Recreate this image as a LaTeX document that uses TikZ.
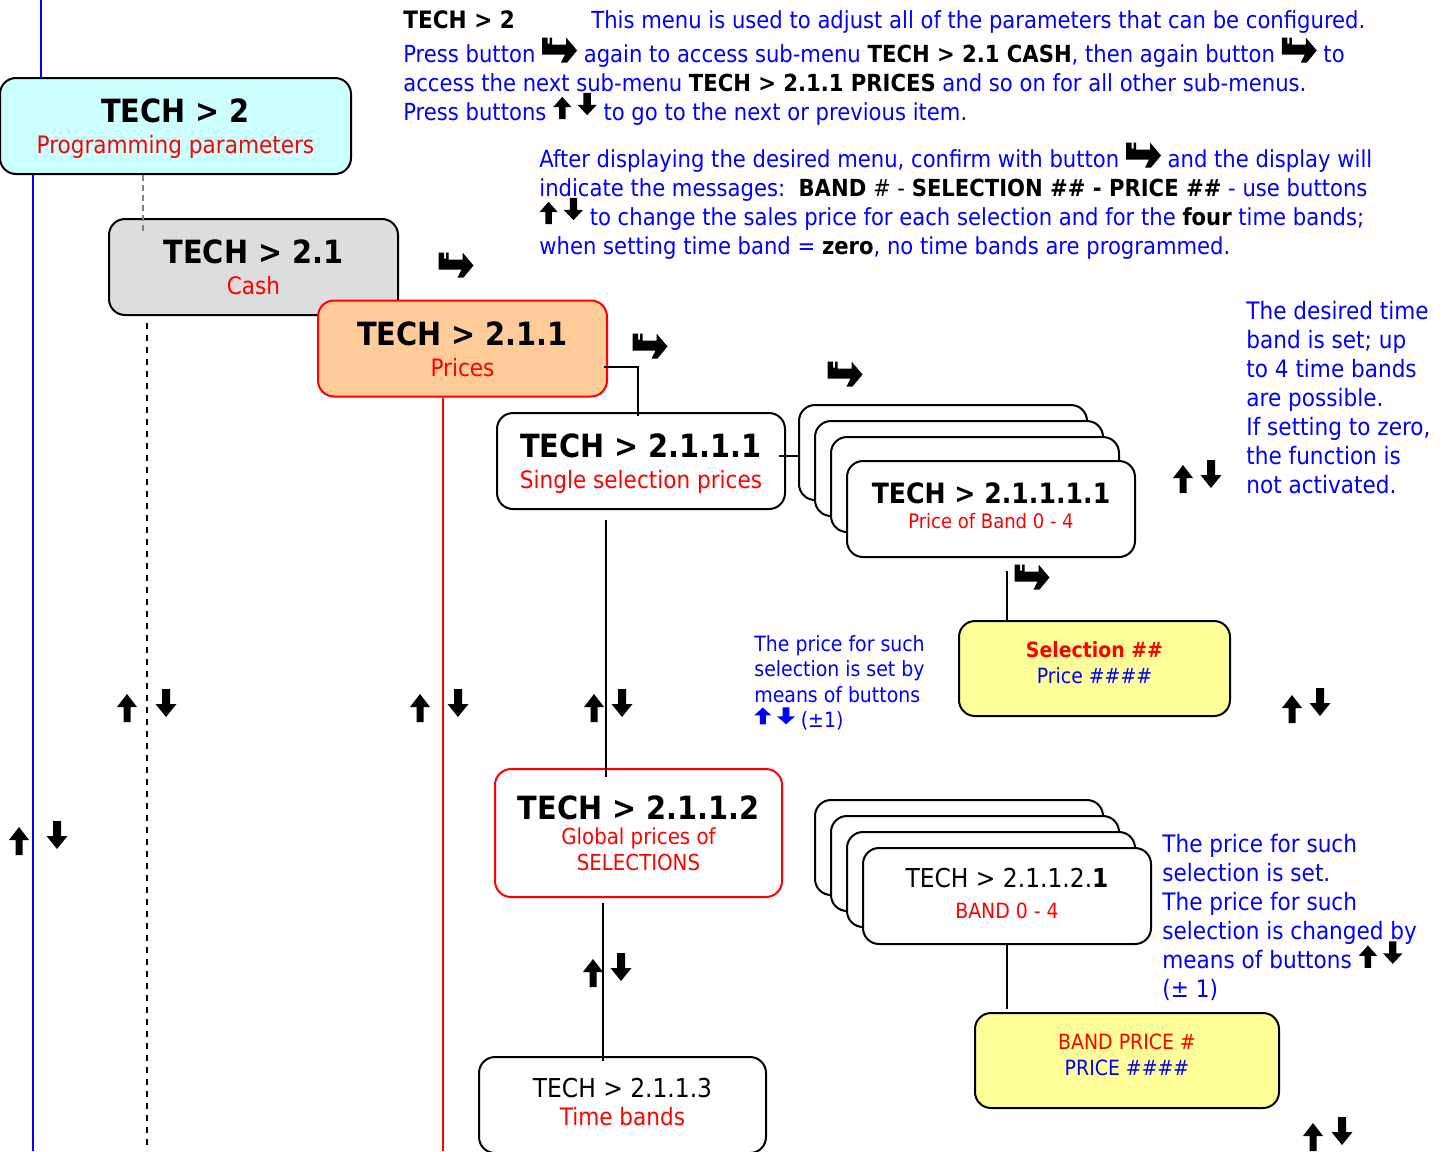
\documentclass[tikz,border=0pt]{standalone}
\usepackage{fontspec}
\setmainfont{DejaVu Sans Condensed}
\usetikzlibrary{calc}

\definecolor{tblue}{HTML}{0000FF}
\definecolor{tred}{HTML}{FF0000}
\definecolor{cyanbg}{HTML}{CCFFFF}
\definecolor{greybg}{HTML}{DDDDDD}
\definecolor{peachbg}{HTML}{FFCC99}
\definecolor{yellowbg}{HTML}{FFFF99}

\tikzset{
  uparr/.pic={\fill (0,-14)--(10,-1)--(3.5,-1)--(3.5,14)--(-3.5,14)--(-3.5,-1)--(-10,-1)--cycle;},
  dnarr/.pic={\fill (0,14)--(10.5,1)--(4,1)--(4,-14)--(-4,-14)--(-4,1)--(-10.5,1)--cycle;},
  enter/.pic={\fill (-17.5,-12.5)--(-12,-12.5)--(-12,-6.5)--(-10,-6.5)--(-10,-12.5)--(-7.5,-12.5)--(-7.5,-5.5)
                    --(6.5,-5.5)--(6.5,-12.5)--(17.5,0.5)--(7.5,12.5)--(1.5,12.5)--(5.5,4.5)--(-17.5,4.5)--cycle;}
}

% keys inside the running text
\newcommand{\keyenter}{\tikz[x=0.5pt,y=-0.5pt,baseline={(0,12)},black]\pic{enter};}
\newcommand{\keyud}{\smash{\tikz[x=0.46pt,y=-0.4pt,baseline={(0,12)},black]{\pic at (0,0) {uparr}; \pic at (27,-5) {dnarr};}}}
\newcommand{\keyarr}[1]{\smash{\tikz[x=0.42pt,y=-0.3pt,baseline={(0,12)},tblue]\pic{#1};}}
\newcommand{\ttl}[1]{{\fontsize{16}{18}\selectfont\bfseries\rule{0pt}{15pt}#1}}
\newcommand{\subt}[1]{{\color{tred}#1}\rule[-3pt]{0pt}{3pt}}

\begin{document}
\begin{tikzpicture}[x=0.5pt,y=-0.5pt,
  menu/.style={draw, line width=1pt, rounded corners=8pt, align=center, inner sep=2pt,
               fill=white, minimum width=144pt, minimum height=48pt, font=\fontsize{12}{15.5}\selectfont},
  note/.style={anchor=base west, inner sep=0pt, text=tblue, font=\fontsize{11.75}{14.5}\selectfont},
  link/.style={line width=0.8pt}]
  \useasboundingbox[fill=white] (0,0) rectangle (1445,1151);

  % left column of menus
  \node[menu, fill=cyanbg, minimum width=175.5pt] (prog) at (175.5,126)
    {\ttl{TECH > 2}\\\subt{Programming parameters}};
  \node[menu, fill=greybg, minimum width=144.5pt] (cash) at (253.5,267)
    {\ttl{TECH > 2.1}\\\subt{Cash}};
  \node[menu, fill=peachbg, draw=tred, minimum width=144.5pt] (prices) at (462.5,348.5)
    {\ttl{TECH > 2.1.1}\\\subt{Prices}};
  \node[menu] (single) at (641,461)
    {\ttl{TECH > 2.1.1.1}\\\subt{Single selection prices}};
  \node[menu, draw=tred, minimum width=143.5pt, minimum height=64pt] (global) at (638.5,833)
    {\ttl{TECH > 2.1.1.2}\\[-3pt]\subt{\fontsize{11}{12.5}\selectfont Global prices of}\\[-2.5pt]\subt{\fontsize{11}{12.5}\selectfont SELECTIONS}};
  \node[menu, minimum width=143.5pt] (timeb) at (622.5,1105)
    {{\fontsize{13}{15}\selectfont TECH > 2.1.1.3}\\[-1.5pt]\subt{Time bands}};

  % stack of band prices
  \node[menu, minimum height=47.5pt] (pb1) at (943,452.5) {};
  \node[menu, minimum height=47.5pt] (pb2) at (959,468.5) {};
  \node[menu, minimum height=47.5pt] (pb3) at (975,484.5) {};
  \node[menu] (pb4) at (991,509)
    {{\fontsize{14}{16}\selectfont\bfseries TECH > 2.1.1.1.1}\\[-3pt]\subt{\fontsize{10}{12}\selectfont Price of Band 0 - 4}};
  \node[menu, fill=yellowbg, minimum width=135.5pt, minimum height=47.5pt, font=\fontsize{10.5}{13}\selectfont] (sel) at (1094.5,668.5)
    {\textcolor{tred}{\bfseries Selection \#\#}\\\textcolor{tblue}{Price \#\#\#\#}\rule[-6pt]{0pt}{6pt}};

  % stack of global band prices
  \node[menu, minimum height=47.5pt] (q1) at (959,847.5) {};
  \node[menu, minimum height=47.5pt] (q2) at (975,863.5) {};
  \node[menu, minimum height=47.5pt] (q3) at (991,879.5) {};
  \node[menu] (q4) at (1007,896)
    {{\fontsize{13}{15}\selectfont TECH > 2.1.1.2.\textbf{1}}\\\subt{\fontsize{10.5}{12}\selectfont BAND 0 - 4}};
  \node[menu, fill=yellowbg, minimum width=152pt, minimum height=47.5pt, font=\fontsize{10.5}{13}\selectfont] (yel2) at (1127,1060.5)
    {\textcolor{tred}{BAND PRICE \#}\\\textcolor{tblue}{PRICE \#\#\#\#}\rule[-6pt]{0pt}{6pt}};

  % connectors
  \coordinate (top) at (41,0);
  \coordinate (bluebot) at (33,1151);
  \coordinate (cashdash) at (143,235);
  \coordinate (cashbot) at (147,1151);
  \coordinate (pricebot) at (443,1151);
  \coordinate (elbow) at (638,367);
  \draw[tblue, line width=1pt] (top) -- (top |- prog.north);
  \draw[tblue, line width=1pt] (bluebot |- prog.south) -- (bluebot);
  \draw[gray, densely dashed, line width=0.6pt] (cashdash |- prog.south) -- (cashdash);
  \draw[dashed, line width=0.8pt] ($(cashbot |- cash.south)+(0,7)$) -- (cashbot);
  \draw[tred, line width=1pt] (pricebot |- prices.south) -- (pricebot);
  \draw[link] ($(prices.east |- elbow)+(-4,0)$) -- (elbow) -- ($(elbow |- single.north)+(0,4)$);
  \draw[link] ($(single.east)+(-7,-5)$) -- ($(single.east -| pb1.west)+(0,-5)$);
  \draw[link] ($(single.south)+(-35,10)$) -- ($(global.north)+(-32.5,9)$);
  \draw[link] ($(global.south)+(-35.5,5)$) -- ($(timeb.north)+(-19.5,5)$);
  \draw[link] ($(pb4.south)+(16,13)$) -- ($(sel.north)+(-87.5,0)$);
  \draw[link] (q4.south) -- ($(yel2.north)+(-120,-3)$);

  % buttons
  \pic at (456,265) {enter};
  \pic at (650,346) {enter};
  \pic at (845,374) {enter};
  \pic at (1032,577) {enter};
  \pic at (1183,479) {uparr}; \pic at (1211,474) {dnarr};
  \pic at (127,708) {uparr};  \pic at (166,703) {dnarr};
  \pic at (420,708) {uparr};  \pic at (458,703) {dnarr};
  \pic at (594,708) {uparr};  \pic at (622,703) {dnarr};
  \pic at (1292,709) {uparr}; \pic at (1320,702) {dnarr};
  \pic at (19,841) {uparr};   \pic at (57,835) {dnarr};
  \pic at (593,973) {uparr};  \pic at (621,967) {dnarr};
  \pic at (1313,1137) {uparr}; \pic at (1342,1131) {dnarr};

  % explanations
  \node[note, text=black, font=\fontsize{12}{14.5}\selectfont\bfseries] (h0) at (403,28) {TECH > 2};
  \node[note] (h1) at (591,28) {This menu is used to adjust all of the parameters that can be configured.};
  \node[note] (h2) at (403,62) {Press button \keyenter{} again to access sub-menu \textcolor{black}{\bfseries TECH > 2.1 CASH}, then again button \keyenter{} to};
  \node[note] (h3) at (403,91) {access the next sub-menu \textcolor{black}{\bfseries TECH > 2.1.1 PRICES} and so on for all other sub-menus.};
  \node[note] (h4) at (403,120) {Press buttons \keyud{} to go to the next or previous item.};
  \node[note] (c1) at (539,167) {After displaying the desired menu, confirm with button \keyenter{} and the display will};
  \node[note] (c2) at (539,196) {indicate the messages:\ \ \textcolor{black}{\textbf{BAND} \# - \textbf{SELECTION \#\# - PRICE \#\#}} - use buttons};
  \node[note] (c3) at (539,225) {\keyud{} to change the sales price for each selection and for the \textcolor{black}{\bfseries four} time bands;};
  \node[note] (c4) at (539,254) {when setting time band = \textcolor{black}{\bfseries zero}, no time bands are programmed.};
  \node[note, anchor=north west, align=left, font=\fontsize{12}{14.5}\selectfont] (bandnote) at (1246,301)
    {The desired time\\band is set; up\\to 4 time bands\\are possible.\\If setting to zero,\\the function is\\not activated.};
  \node[note, anchor=north west, align=left, font=\fontsize{10.5}{12.75}\selectfont] (selnote) at (754,635)
    {The price for such\\selection is set by\\means of buttons\\\keyarr{uparr}\ \keyarr{dnarr}\ (±1)};
  \node[note, anchor=north west, align=left, font=\fontsize{12}{14.5}\selectfont] (globnote) at (1162,834)
    {The price for such\\selection is set.\\The price for such\\selection is changed by\\means of buttons \keyud\\(± 1)};
\end{tikzpicture}
\end{document}
